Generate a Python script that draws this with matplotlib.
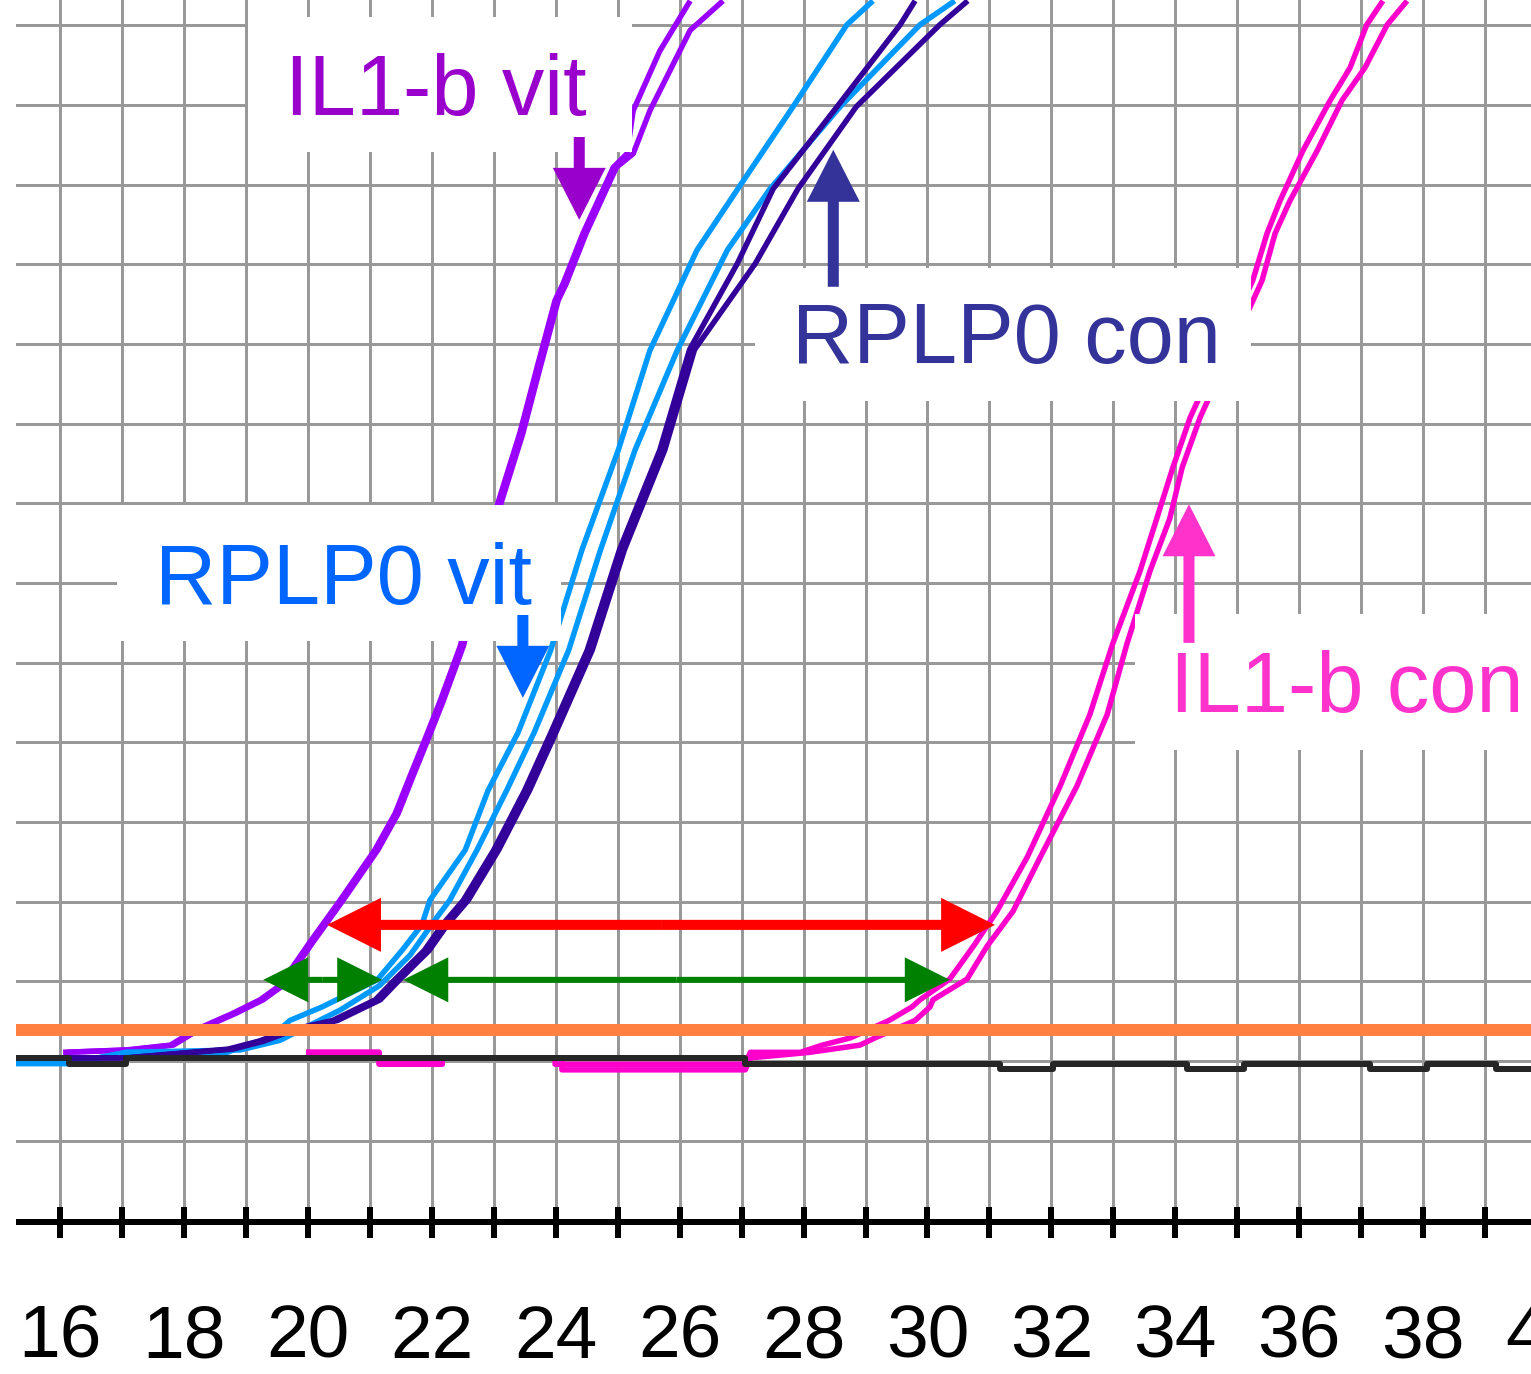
import matplotlib
matplotlib.use("Agg")
import matplotlib.pyplot as plt
import matplotlib.transforms as mtransforms
from matplotlib.patches import Rectangle

# ---------------- data (cycle, fluorescence in grid units) ----------------
cycle_ticks = list(range(16, 40))
cycle_labels = [16, 18, 20, 22, 24, 26, 28, 30, 32, 34, 36, 38, 40]
threshold = 0.39

il1b_vit_a_x = [16.05, 17.07, 17.78, 18.18, 18.79, 19.23, 19.55, 20.03, 20.52, 21.08, 21.41, 21.65, 21.89,
                22.13, 22.46, 23.07, 23.42, 23.70, 23.99, 24.12, 24.44, 24.93, 25.15, 25.25, 25.68, 26.17]
il1b_vit_a_y = [0.11, 0.14, 0.20, 0.39, 0.60, 0.77, 0.95, 1.49, 2.02, 2.65, 3.11, 3.58, 4.04,
                4.51, 5.21, 7.01, 7.88, 8.71, 9.55, 9.76, 10.39, 11.22, 11.39, 11.93, 12.68, 13.31]
il1b_vit_b_x = [16.10, 17.12, 17.83, 18.23, 18.84, 19.28, 19.60, 20.08, 20.57, 21.13, 21.46, 21.70, 21.94,
                22.18, 22.51, 23.12, 23.47, 23.75, 24.04, 24.17, 24.49, 24.98, 25.25, 25.52, 26.17, 26.70]
il1b_vit_b_y = [0.11, 0.14, 0.20, 0.39, 0.60, 0.77, 0.95, 1.49, 2.02, 2.65, 3.11, 3.58, 4.04,
                4.51, 5.21, 7.01, 7.88, 8.71, 9.55, 9.76, 10.39, 11.22, 11.39, 11.93, 12.94, 13.31]

rplp0_vit_a_x = [15.29, 16.15, 17.07, 18.70, 19.00, 19.39, 19.71, 20.23, 21.12, 21.52, 21.84, 21.97, 22.54,
                 22.91, 23.39, 23.92, 24.42, 25.01, 25.52, 26.28, 26.94, 27.83, 28.70, 29.12]
rplp0_vit_a_y = [-0.03, -0.03, 0.11, 0.11, 0.20, 0.29, 0.51, 0.68, 1.02, 1.39, 1.71, 2.02, 2.65,
                 3.40, 4.12, 5.16, 6.41, 7.67, 8.92, 10.18, 10.95, 11.98, 13.01, 13.31]
rplp0_vit_b_x = [15.29, 16.15, 17.07, 18.91, 19.55, 20.03, 20.52, 21.16, 21.65, 22.05, 22.29, 22.73,
                 23.21, 23.65, 24.21, 24.72, 25.28, 25.96, 26.77, 27.46, 28.59, 29.88, 30.44]
rplp0_vit_b_y = [-0.03, -0.03, 0.11, 0.14, 0.26, 0.45, 0.64, 0.95, 1.33, 1.77, 2.02, 2.65,
                 3.40, 4.12, 5.16, 6.41, 7.67, 8.92, 10.18, 10.95, 11.98, 13.01, 13.31]

rplp0_con_a_x = [16.15, 17.07, 18.71, 19.21, 19.66, 20.40, 21.09, 21.40, 21.88, 22.17, 22.51, 23.00,
                 23.50, 23.92, 24.51, 25.03, 25.68, 26.16, 26.93, 27.51, 28.54, 29.56, 29.80]
rplp0_con_a_y = [0.04, 0.04, 0.15, 0.25, 0.38, 0.51, 0.77, 1.02, 1.39, 1.71, 2.02, 2.65,
                 3.40, 4.12, 5.16, 6.42, 7.67, 8.93, 10.01, 10.95, 11.98, 13.01, 13.31]
rplp0_con_b_x = [16.15, 17.07, 18.79, 19.29, 19.74, 20.48, 21.17, 21.48, 21.96, 22.25, 22.59, 23.08,
                 23.58, 24.00, 24.59, 25.11, 25.76, 26.24, 27.22, 27.91, 28.85, 30.20, 30.65]
rplp0_con_b_y = [0.04, 0.04, 0.15, 0.25, 0.38, 0.51, 0.77, 1.02, 1.39, 1.71, 2.02, 2.65,
                 3.40, 4.12, 5.16, 6.42, 7.67, 8.93, 10.01, 10.95, 11.98, 13.01, 13.31]

il1b_con_a_x = [19.97, 21.15, 21.15, 22.17, 22.17, 23.99, 23.99, 27.06, 27.14, 27.95, 28.30, 28.75, 29.38,
                29.75, 29.88, 30.36, 30.74, 31.12, 31.61, 32.14, 32.62, 32.99, 33.43, 33.70, 33.96,
                34.24, 35.25, 35.48, 35.69, 36.06, 36.50, 36.82, 37.09, 37.35]
il1b_con_a_y = [0.11, 0.11, -0.03, -0.03, 0.04, 0.04, -0.04, -0.04, 0.11, 0.11, 0.20, 0.29, 0.51,
                0.68, 0.77, 1.03, 1.44, 1.88, 2.56, 3.45, 4.35, 5.24, 6.15, 6.81, 7.45,
                8.08, 9.80, 10.39, 10.80, 11.43, 12.06, 12.47, 13.01, 13.31]
il1b_con_b_x = [19.97, 21.15, 21.15, 22.17, 22.17, 24.10, 24.10, 27.06, 27.14, 28.10, 28.91, 29.15, 29.80,
                30.04, 30.09, 30.64, 30.96, 31.38, 31.82, 32.41, 32.90, 33.22, 33.59, 33.91, 34.11,
                34.40, 35.40, 35.61, 35.85, 36.29, 36.69, 37.06, 37.42, 37.74]
il1b_con_b_y = [0.11, 0.11, -0.04, -0.04, 0.04, 0.04, -0.11, -0.11, 0.04, 0.11, 0.20, 0.29, 0.51,
                0.68, 0.77, 1.03, 1.44, 1.88, 2.56, 3.45, 4.35, 5.24, 6.15, 6.81, 7.45,
                8.08, 9.80, 10.39, 10.80, 11.43, 12.06, 12.47, 13.01, 13.31]

ntc_x = [15.29, 16.15, 17.07, 27.06, 31.17, 32.03, 34.19, 35.11, 37.14, 38.06, 39.18, 39.74]
ntc_y = [0.04, -0.04, 0.04, -0.04, -0.10, -0.04, -0.10, -0.04, -0.10, -0.04, -0.10, -0.10]

labels = ["IL1-b vit", "RPLP0 vit", "RPLP0 con", "IL1-b con"]

# ---------------- styling ----------------
W, H, DPI = 1531, 1374, 100
PX = 72.0 / DPI
XL = (15.29, 39.74)
YL = (-2.02, 13.32)

fig = plt.figure(figsize=(W / DPI, H / DPI), dpi=DPI)
ax = fig.add_axes([16 / W, 152 / H, 1515 / W, 1222 / H])
ax.set_xlim(*XL)
ax.set_ylim(*YL)

ax.set_xticks(cycle_ticks)
ax.set_yticks(range(-1, 14))
ax.grid(True, color="#999999", lw=3 * PX, zorder=0)
ax.set_axisbelow(True)
for s in ("left", "right", "top"):
    ax.spines[s].set_visible(False)
ax.spines["bottom"].set_linewidth(6 * PX)
ax.spines["bottom"].set_color("black")
ax.spines["bottom"].set_capstyle("butt")
ax.spines["bottom"].set_zorder(3)
ax.tick_params(axis="x", direction="inout", length=31 * PX, width=6 * PX, color="black",
               labelbottom=False)
ax.tick_params(axis="y", length=0, labelleft=False)

trans = mtransforms.blended_transform_factory(ax.transData, ax.transAxes)
for v in cycle_labels:
    ax.text(v, -136 / 1222, str(v), transform=trans, ha="center", va="baseline",
            fontsize=54, family="Liberation Sans", color="black", clip_on=False)

# curves
LW = 5.5 * PX
curves = [
    (il1b_con_a_x, il1b_con_a_y, "#FF00CC"), (il1b_con_b_x, il1b_con_b_y, "#FF00CC"),
    (il1b_vit_a_x, il1b_vit_a_y, "#9900FF"), (il1b_vit_b_x, il1b_vit_b_y, "#9900FF"),
    (rplp0_vit_a_x, rplp0_vit_a_y, "#0099FF"), (rplp0_vit_b_x, rplp0_vit_b_y, "#0099FF"),
    (rplp0_con_a_x, rplp0_con_a_y, "#330099"), (rplp0_con_b_x, rplp0_con_b_y, "#330099"),
]
for xs, ys, c in curves:
    ax.plot(xs, ys, color=c, lw=LW, zorder=2, solid_capstyle="butt")
ax.plot(ntc_x, ntc_y, color="#262626", lw=6 * PX, drawstyle="steps-post", zorder=2.5)
ax.axhline(threshold, color="#FF8040", lw=12 * PX, zorder=3)

# white label boxes
boxes = [((19.03, 11.41), 6.20, 1.70), ((16.92, 5.27), 7.17, 1.71),
         ((27.22, 8.29), 8.00, 1.67), ((33.35, 3.90), 6.50, 1.71)]
for (bx, by), bw, bh in boxes:
    ax.add_patch(Rectangle((bx, by), bw, bh, facecolor="white", edgecolor="none", zorder=5))

text_pos = [(19.63, 11.88), (17.53, 5.74), (27.81, 8.76), (33.91, 4.38)]
text_col = ["#9900CC", "#0066FF", "#333399", "#FF33CC"]
for (tx, ty), s, c in zip(text_pos, labels, text_col):
    ax.text(tx, ty, s, color=c, fontsize=61, family="Liberation Sans", ha="left",
            va="baseline", zorder=6)

# vertical arrows
def varrow(x, y0, y1, color):
    ax.arrow(x, y0, 0, y1 - y0, width=0.178, head_width=0.855, head_length=0.653,
             length_includes_head=True, color=color, lw=0, zorder=7)

varrow(24.38, 11.60, 10.56, "#9900CC")
varrow(28.48, 9.72, 11.44, "#333399")
varrow(23.47, 5.60, 4.56, "#0066FF")
varrow(34.22, 5.25, 6.99, "#FF33CC")

# horizontal double arrows
def harrow(x0, x1, y, color, width, hw, hl):
    mid = 0.5 * (x0 + x1)
    for end in (x0, x1):
        ax.arrow(mid, y, end - mid, 0, width=width, head_width=hw, head_length=hl,
                 length_includes_head=True, color=color, lw=0, zorder=7)

harrow(20.31, 31.09, 1.71, "#FF0000", 0.126, 0.678, 0.87)
harrow(19.28, 21.20, 1.02, "#008000", 0.075, 0.565, 0.726)
harrow(21.54, 30.36, 1.02, "#008000", 0.075, 0.565, 0.726)

fig.savefig("out.png", dpi=DPI)
